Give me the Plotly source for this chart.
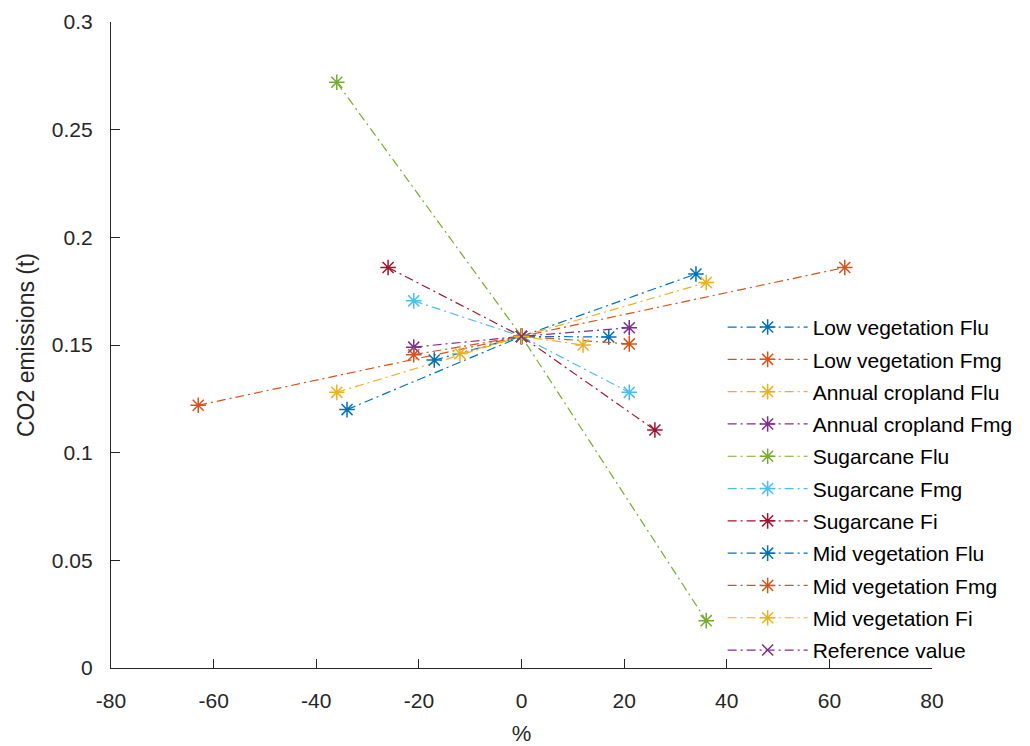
import plotly.graph_objects as go

# Sensitivity of CO2 emissions to each emission factor (low / reference / high)
series_names = [
    "Low vegetation Flu", "Low vegetation Fmg", "Annual cropland Flu",
    "Annual cropland Fmg", "Sugarcane Flu", "Sugarcane Fmg", "Sugarcane Fi",
    "Mid vegetation Flu", "Mid vegetation Fmg", "Mid vegetation Fi",
]
# percentage change applied to each factor
pct_change = [34, 63, 36, 21, 36, 21, 26, 17, 21, 12]
reference_value = 0.154
# emissions at -pct and +pct
emis_low = [0.120, 0.122, 0.128, 0.149, 0.272, 0.1705, 0.186, 0.143, 0.1455, 0.146]
emis_high = [0.183, 0.186, 0.179, 0.158, 0.022, 0.128, 0.1105, 0.1537, 0.1505, 0.150]

x_ticks = [-80, -60, -40, -20, 0, 20, 40, 60, 80]
y_ticks = [0, 0.05, 0.1, 0.15, 0.2, 0.25, 0.3]
y_tick_text = ["0", "0.05", "0.1", "0.15", "0.2", "0.25", "0.3"]

colors = ["#0072BD", "#D95319", "#EDB120", "#7E2F8E", "#77AC30",
          "#4DBEEE", "#A2142F"]

FONT = "Liberation Sans, Arial, Helvetica, sans-serif"
DASH = "9px,4px,2px,4px"

fig = go.Figure()
for i, name in enumerate(series_names):
    c = colors[i % len(colors)]
    p = pct_change[i]
    fig.add_trace(go.Scatter(
        x=[-p, 0, p],
        y=[emis_low[i], reference_value, emis_high[i]],
        mode="lines+markers",
        name=name,
        legendgroup=name,
        line=dict(color=c, width=1.2, dash=DASH),
        marker=dict(symbol="asterisk-open", size=13, color=c,
                    line=dict(color=c, width=1.5)),
    ))

c_ref = colors[len(series_names) % len(colors)]
fig.add_trace(go.Scatter(
    x=[0], y=[reference_value],
    mode="lines+markers",
    name="Reference value",
    legendgroup="Reference value",
    line=dict(color=c_ref, width=1.2, dash=DASH),
    marker=dict(symbol="x-thin-open", size=11, color=c_ref,
                line=dict(color=c_ref, width=1.5)),
))

axis_common = dict(
    showline=True, linecolor="#262626", linewidth=1.2,
    ticks="inside", ticklen=9, tickcolor="#262626", tickwidth=1.4,
    showgrid=False, zeroline=False, mirror=False, automargin=False,
    tickfont=dict(family=FONT, size=21, color="#262626"),
)

fig.update_layout(
    width=1030, height=746,
    margin=dict(l=111, r=98, t=22, b=78),
    paper_bgcolor="white", plot_bgcolor="white",
    font=dict(family=FONT, size=21, color="#262626"),
    showlegend=True,
    legend=dict(
        x=0.745, y=0.559, xanchor="left", yanchor="top",
        bgcolor="rgba(255,255,255,0)", borderwidth=0,
        font=dict(family=FONT, size=21, color="#000000"),
        itemwidth=80, tracegroupgap=2,
    ),
    xaxis=dict(
        range=[-80, 80], tickvals=x_ticks, ticktext=[str(v) for v in x_ticks],
        ticklabelstandoff=14,
        title=dict(text="%", font=dict(family=FONT, size=22, color="#262626"),
                   standoff=15),
        **axis_common,
    ),
    yaxis=dict(
        range=[0, 0.3], tickvals=y_ticks, ticktext=y_tick_text,
        ticklabelstandoff=13,
        title=dict(text="CO2 emissions (t)",
                   font=dict(family=FONT, size=23, color="#262626"),
                   standoff=10),
        **axis_common,
    ),
)

fig.write_html("out.html")
